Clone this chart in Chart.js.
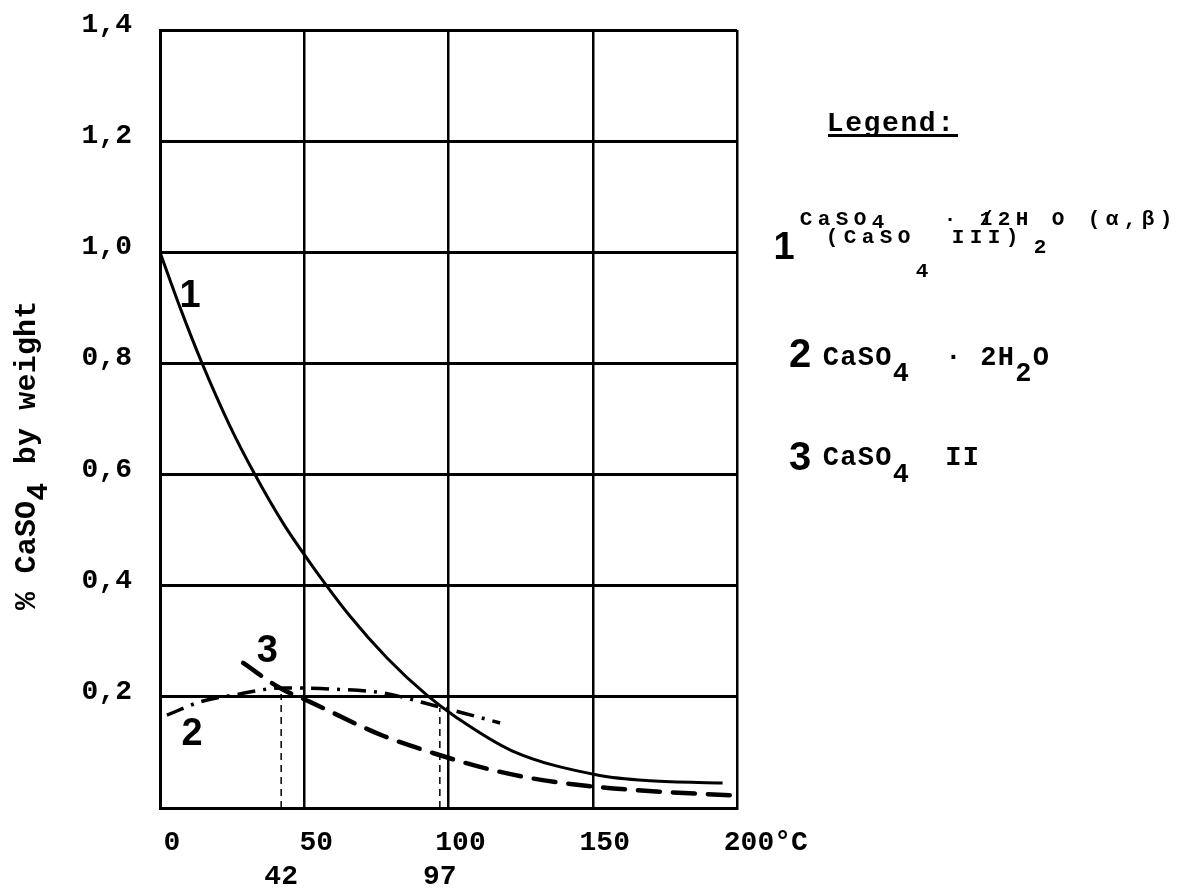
<!DOCTYPE html>
<html>
<head>
<meta charset="utf-8">
<script src="https://cdn.jsdelivr.net/npm/chart.js@4"></script>
<style>
  html, body { margin: 0; padding: 0; background: #fff; }
</style>
</head>
<body>
<canvas id="chart" width="1179" height="890"></canvas>
<script>
// Tick values and labels
const xTickValues = [0, 50, 100, 150, 200];
const xUnit = '°C';
const yTickValues = [0, 0.2, 0.4, 0.6, 0.8, 1.0, 1.2, 1.4];
const yTickLabels = ['', '0,2', '0,4', '0,6', '0,8', '1,0', '1,2', '1,4'];

// Curve 1: CaSO4 · 1/2H2O (solid)
const curve1X = [0, 7, 14.6, 24, 32.9, 42.6, 53, 65.9, 78.7, 92.5, 103, 122, 152, 170, 195];
const curve1Y = [1.0, 0.9, 0.80, 0.69, 0.60, 0.513, 0.434, 0.345, 0.27, 0.203, 0.162, 0.103, 0.059, 0.049, 0.045];

// Curve 2: CaSO4 · 2H2O (dash-dot)
const curve2X = [2.4, 13.9, 25.3, 42.6, 60, 77.3, 94.6, 105, 117.9];
const curve2Y = [0.167, 0.191, 0.203, 0.216, 0.214, 0.207, 0.185, 0.171, 0.153];

// Curve 3: CaSO4 II (dashed)
const curve3X = [28.8, 41.6, 52, 77.3, 94.6, 110.9, 128.2, 151.5, 174.4, 197.6];
const curve3Y = [0.261, 0.216, 0.191, 0.13, 0.099, 0.074, 0.054, 0.038, 0.029, 0.023];

// Intersection markers (vertical dashed lines + labels under the axis)
const markerValues = [42, 97];
const markerTops = [0.205, 0.18];

// Numbers written next to the curves
const curveTags = ['1', '2', '3'];
const curveTagX = [10.4, 11.1, 37.2];
const curveTagY = [0.926, 0.138, 0.288];

// Axis title and legend text: [text, kind(0 normal, 1 sub, 2 deep sub), overstrike]
const yTitle = [['% CaSO', 0], ['4', 1], [' by weight', 0]];
const legendTitle = 'Legend:';
const legendNums = ['1', '2', '3'];
const legendItem1a = [['CaSO', 0], ['4', 1], ['   · ', 0], ['1/', 0, true], ['2H', 0], ['2', 2], ['O (α,β)', 0]];
const legendItem1b = [['(CaSO', 0], ['4', 2], [' III)', 0]];
const legendItem2 = [['CaSO', 0], ['4', 1], ['  · ', 0], ['2H', 0], ['2', 1], ['O', 0]];
const legendItem3 = [['CaSO', 0], ['4', 1], ['  II', 0]];

const MONO = '"Liberation Mono", "DejaVu Sans Mono", monospace';
const SANS = '"Liberation Sans", Arial, sans-serif';

function pts(xs, ys) {
    return xs.map((x, i) => ({ x: x, y: ys[i] }));
}

// typewriter style text: every char gets one cell of fixed pitch
function drawMono(ctx, parts, x, y, pitch, drops) {
    let cell = 0;
    ctx.textAlign = 'center';
    ctx.textBaseline = 'alphabetic';
    parts.forEach(([text, kind, over]) => {
        const dy = kind ? drops[kind - 1] : 0;
        for (const ch of text) {
            ctx.fillText(ch, x + cell * pitch + pitch / 2, y + dy);
            if (!over) cell++;
        }
        if (over) cell++;
    });
}

function bigNum(ctx, t, cx, cy, size) {
    ctx.font = 'bold ' + size + 'px ' + SANS;
    ctx.textAlign = 'center';
    ctx.textBaseline = 'alphabetic';
    ctx.fillText(t, cx, cy + size * 0.716 / 2);
}

const paperPlugin = {
    id: 'paper',
    afterDatasetsDraw(chart) {
        const ctx = chart.ctx;
        const xs = chart.scales.x;
        const ys = chart.scales.y;
        ctx.save();
        ctx.fillStyle = '#000';

        // x tick labels (a bit right of the grid line, like the original)
        ctx.font = 'bold 28px ' + MONO;
        ctx.textAlign = 'left';
        ctx.textBaseline = 'alphabetic';
        xs.ticks.forEach((t, i) => {
            const s = String(t.value);
            const w = ctx.measureText(s).width;
            const px = xs.getPixelForValue(t.value) + 12 - w / 2;
            ctx.fillText(i === xs.ticks.length - 1 ? s + xUnit : s, px, 850);
        });

        // marker labels
        ctx.textAlign = 'center';
        markerValues.forEach(v => ctx.fillText(String(v), xs.getPixelForValue(v), 884));

        // curve numbers
        curveTags.forEach((t, i) => {
            bigNum(ctx, t, xs.getPixelForValue(curveTagX[i]), ys.getPixelForValue(curveTagY[i]), 38);
        });

        // y axis title, rotated
        ctx.save();
        ctx.translate(35, 610);
        ctx.rotate(-Math.PI / 2);
        ctx.font = 'bold 30px ' + MONO;
        drawMono(ctx, yTitle, 0, 0, 18.2, [12]);
        ctx.restore();

        // legend
        ctx.font = 'bold 28px ' + MONO;
        drawMono(ctx, [[legendTitle, 0]], 826, 131, 18.4, []);
        ctx.fillRect(828, 134, 130, 3);

        bigNum(ctx, legendNums[0], 784, 245, 38);
        ctx.font = 'bold 21px ' + MONO;
        drawMono(ctx, legendItem1a, 797, 225, 18, [3, 28]);
        drawMono(ctx, legendItem1b, 823, 243, 18, [3, 34]);

        bigNum(ctx, legendNums[1], 800, 353, 40);
        ctx.font = 'bold 27px ' + MONO;
        drawMono(ctx, legendItem2, 822, 365, 17.5, [16]);

        bigNum(ctx, legendNums[2], 800, 456, 40);
        ctx.font = 'bold 27px ' + MONO;
        drawMono(ctx, legendItem3, 822, 465, 17.5, [17]);

        ctx.restore();
    }
};

new Chart(document.getElementById('chart'), {
    type: 'line',
    data: {
        datasets: [
            {
                data: pts(curve1X, curve1Y),
                borderColor: '#000', borderWidth: 3, pointRadius: 0,
                cubicInterpolationMode: 'monotone', fill: false
            },
            {
                data: pts(curve2X, curve2Y),
                borderColor: '#000', borderWidth: 3.5, pointRadius: 0,
                borderDash: [18, 8, 3, 8],
                cubicInterpolationMode: 'monotone', fill: false
            },
            {
                data: pts(curve3X, curve3Y),
                borderColor: '#000', borderWidth: 4.5, pointRadius: 0,
                borderDash: [22, 13], borderCapStyle: 'round',
                cubicInterpolationMode: 'monotone', fill: false
            },
            {
                data: [{ x: markerValues[0], y: 0 }, { x: markerValues[0], y: markerTops[0] }],
                borderColor: '#000', borderWidth: 1.5, pointRadius: 0, borderDash: [7, 5]
            },
            {
                data: [{ x: markerValues[1], y: 0 }, { x: markerValues[1], y: markerTops[1] }],
                borderColor: '#000', borderWidth: 1.5, pointRadius: 0, borderDash: [7, 5]
            }
        ]
    },
    options: {
        responsive: false,
        animation: false,
        devicePixelRatio: 1,
        layout: { padding: { left: 0, top: 30, right: 442, bottom: 0 } },
        plugins: { legend: { display: false }, tooltip: { enabled: false } },
        scales: {
            x: {
                type: 'linear', min: 0, max: 200,
                afterBuildTicks: s => { s.ticks = xTickValues.map(v => ({ value: v })); },
                afterFit: s => { s.height = 82; s.paddingLeft = 0; s.paddingRight = 0; },
                ticks: { display: false },
                grid: { color: '#000', lineWidth: 2.5, drawTicks: false },
                border: { color: '#000', width: 3 }
            },
            y: {
                type: 'linear', min: 0, max: 1.4,
                afterBuildTicks: s => { s.ticks = yTickValues.map(v => ({ value: v })); },
                afterFit: s => { s.width = 160; s.paddingTop = 0; s.paddingBottom = 0; },
                ticks: {
                    padding: 28, labelOffset: -5, color: '#000',
                    font: { family: 'Liberation Mono', size: 28, weight: 'bold' },
                    callback: (v, i) => yTickLabels[i]
                },
                grid: { color: '#000', lineWidth: 3, drawTicks: false },
                border: { color: '#000', width: 3 }
            }
        }
    },
    plugins: [paperPlugin]
});
</script>
</body>
</html>
